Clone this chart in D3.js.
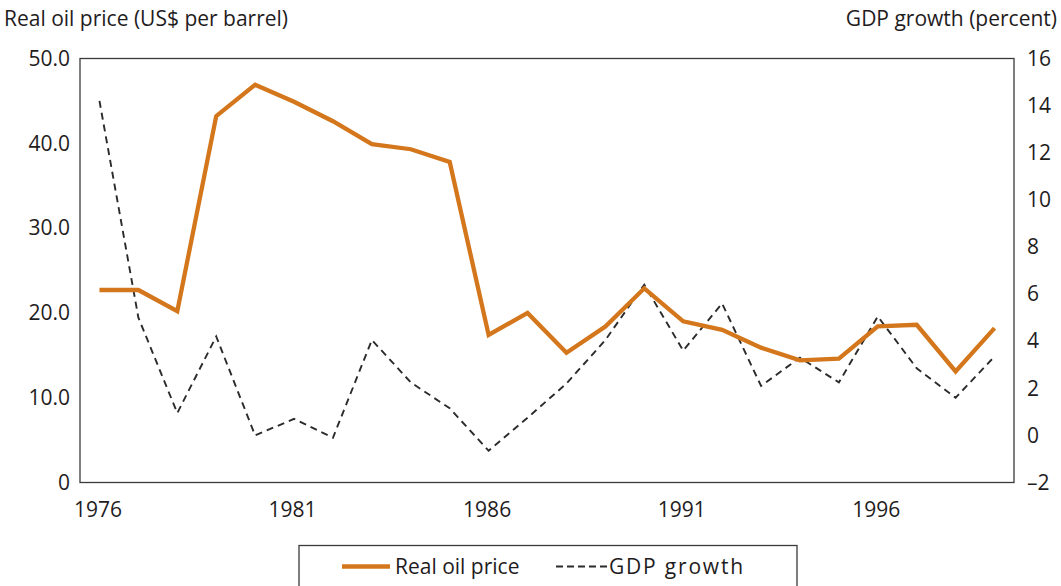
<!DOCTYPE html>
<html>
<head>
<meta charset="utf-8">
<script src="https://cdn.jsdelivr.net/npm/d3@7"></script>
<style>
  body { margin: 0; background: #fff; }
  text { font-family: "Open Sans", sans-serif; fill: #1f1c1d; }
</style>
</head>
<body>
<script>
const years = d3.range(1976, 2000);
const oilPrice = [22.7, 22.7, 20.2, 43.2, 46.9, 44.9, 42.6, 39.9, 39.3, 37.8,
  17.4, 20.0, 15.3, 18.4, 22.9, 19.0, 18.0, 15.9, 14.4, 14.6,
  18.4, 18.6, 13.1, 18.2];
const gdpGrowth = [14.2, 5.0, 0.95, 4.2, 0.0, 0.7, -0.1, 4.05, 2.25, 1.15,
  -0.65, 0.75, 2.2, 4.05, 6.4, 3.6, 5.6, 2.1, 3.3, 2.25,
  5.05, 2.85, 1.6, 3.35];
const leftTicks = [0, 10, 20, 30, 40, 50];
const rightTicks = [-2, 0, 2, 4, 6, 8, 10, 12, 14, 16];
const xTicks = [1976, 1981, 1986, 1991, 1996];

const w = 1061, h = 586;
const margin = {top: 58.5, right: 47, bottom: 103.5, left: 80};
const orange = "#d4771c";
const fontSize = 21;

const svg = d3.select("body")
  .append("svg")
  .attr("width", w)
  .attr("height", h);

const xScale = d3.scalePoint()
  .domain(years)
  .range([margin.left, w - margin.right])
  .padding(0.5);
const yLeft = d3.scaleLinear()
  .domain([0, 50])
  .range([h - margin.bottom, margin.top]);
const yRight = d3.scaleLinear()
  .domain([-2, 16])
  .range([h - margin.bottom, margin.top]);

// frame
svg.append("rect")
  .attr("x", margin.left)
  .attr("y", margin.top)
  .attr("width", w - margin.right - margin.left)
  .attr("height", h - margin.bottom - margin.top)
  .attr("fill", "none")
  .attr("stroke", "#3a3a3a")
  .attr("stroke-width", 1.3);

// axes (labels only)
const leftAxis = svg.append("g")
  .attr("transform", "translate(" + margin.left + ",0)")
  .call(d3.axisLeft(yLeft).tickValues(leftTicks).tickSize(0).tickPadding(10)
    .tickFormat(d => d === 0 ? "0" : d3.format(".1f")(d)));
const rightAxis = svg.append("g")
  .attr("transform", "translate(" + (w - margin.right) + ",0)")
  .call(d3.axisRight(yRight).tickValues(rightTicks).tickSize(0).tickPadding(13)
    .tickFormat(d => d < 0 ? "\u2013" + Math.abs(d) : d));
const bottomAxis = svg.append("g")
  .attr("transform", "translate(0," + (h - margin.bottom) + ")")
  .call(d3.axisBottom(xScale).tickValues(xTicks).tickSize(0).tickPadding(20));

[leftAxis, rightAxis, bottomAxis].forEach(g => {
  g.select(".domain").remove();
  g.selectAll("text")
    .attr("font-family", "Open Sans, sans-serif")
    .attr("font-size", fontSize)
    .attr("fill", "#1f1c1d");
});
bottomAxis.selectAll("text").attr("dx", -2);

// axis titles
svg.append("text")
  .attr("x", 4)
  .attr("y", 26)
  .style("font-size", fontSize + "px")
  .text("Real oil price (US$ per barrel)");
svg.append("text")
  .attr("x", 1057)
  .attr("y", 26)
  .attr("text-anchor", "end")
  .style("font-size", fontSize + "px")
  .text("GDP growth (percent)");

// lines
const gdpLine = d3.line()
  .x((d, i) => xScale(years[i]))
  .y(d => yRight(d));
const oilLine = d3.line()
  .x((d, i) => xScale(years[i]))
  .y(d => yLeft(d));

svg.append("path")
  .datum(gdpGrowth)
  .attr("d", gdpLine)
  .attr("fill", "none")
  .attr("stroke", "#2b2b2b")
  .attr("stroke-width", 1.9)
  .attr("stroke-dasharray", "7,5");

svg.append("path")
  .datum(oilPrice)
  .attr("d", oilLine)
  .attr("fill", "none")
  .attr("stroke", orange)
  .attr("stroke-width", 4.3)
  .attr("stroke-linejoin", "miter");

// legend
const legend = svg.append("g");
legend.append("rect")
  .attr("x", 299)
  .attr("y", 545.5)
  .attr("width", 498)
  .attr("height", 60)
  .attr("fill", "none")
  .attr("stroke", "#3a3a3a")
  .attr("stroke-width", 1.3);
legend.append("line")
  .attr("x1", 342).attr("x2", 390)
  .attr("y1", 566.5).attr("y2", 566.5)
  .attr("stroke", orange)
  .attr("stroke-width", 4.3);
legend.append("text")
  .attr("x", 395)
  .attr("y", 574)
  .style("font-size", fontSize + "px")
  .text("Real oil price");
legend.append("line")
  .attr("x1", 556).attr("x2", 607)
  .attr("y1", 566.5).attr("y2", 566.5)
  .attr("stroke", "#2b2b2b")
  .attr("stroke-width", 1.9)
  .attr("stroke-dasharray", "7,4");
legend.append("text")
  .attr("x", 609)
  .attr("y", 574)
  .style("font-size", fontSize + "px")
  .style("letter-spacing", "1.8px")
  .text("GDP growth");
</script>
</body>
</html>
